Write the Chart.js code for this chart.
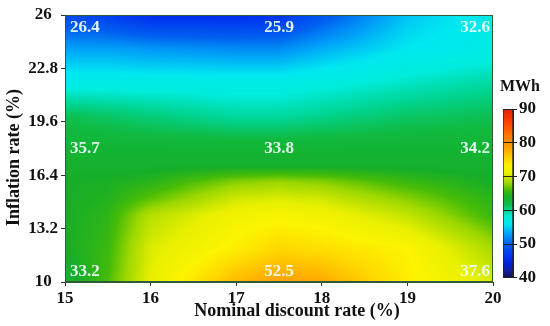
<!DOCTYPE html>
<html lang="en">
<head>
  <meta charset="UTF-8">
  <title>Energy contour</title>
  <style>
    body { margin: 0; background: #fff; }
    .wrap { position: relative; width: 550px; height: 326px; }
    .wrap canvas { display: block; }
    .cbar { position: absolute; left: 480px; top: 70px; width: 70px; height: 220px; }
  </style>
</head>
<body>
  <div class="wrap">
    <canvas id="mainChart" width="550" height="326"></canvas>
    <div class="cbar"><canvas id="barChart" width="70" height="220"></canvas></div>
  </div>

  <script src="https://cdn.jsdelivr.net/npm/chart.js"></script>
  <script>
    // grid (MWh)
    const gridX = [15, 15.5, 16, 17, 17.5, 18, 19, 20];
    const gridY = [10, 12, 14, 15, 16, 17, 18, 20, 22, 24, 26];
    const gridZ = [
      [63.0, 66.0, 71.0, 77.0, 78.5, 78.0, 73.5, 70.5],
      [64.0, 65.5, 70.5, 73.5, 75.0, 74.5, 73.0, 68.5],
      [64.0, 65.0, 69.0, 72.0, 72.5, 72.0, 69.5, 65.5],
      [64.0, 64.5, 66.5, 70.0, 70.5, 70.0, 67.5, 64.8],
      [64.0, 64.2, 64.8, 67.5, 68.0, 67.5, 65.5, 64.0],
      [63.5, 63.5, 63.5, 63.5, 63.5, 63.5, 63.5, 63.5],
      [63.0, 63.0, 63.0, 63.0, 63.0, 63.0, 63.0, 63.0],
      [61.5, 61.0, 60.5, 59.5, 59.5, 60.0, 61.0, 61.5],
      [57.0, 57.0, 57.0, 57.0, 57.0, 57.5, 58.5, 59.5],
      [53.0, 53.0, 52.5, 52.0, 52.0, 53.5, 56.0, 57.0],
      [48.0, 47.0, 45.5, 45.5, 46.0, 49.0, 54.5, 57.0]
    ];

    // values printed inside the plot
    const labelX = [15, 17.5, 20, 15, 17.5, 20, 15, 17.5, 20];
    const labelY = [26, 26, 26, 18, 18, 18, 10, 10, 10];
    const labelText = ['26.4', '25.9', '32.6', '35.7', '33.8', '34.2', '33.2', '52.5', '37.6'];

    const yTicks = [10, 13.2, 16.4, 19.6, 22.8, 26];
    const barRange = [40, 90];

    // colour map (value -> rgb)
    const cmap = [
      [40, [16, 16, 80]], [42, [20, 30, 150]], [44, [0, 32, 208]], [46, [0, 48, 240]],
      [50, [0, 96, 240]], [53, [0, 160, 248]], [56, [0, 232, 240]], [58, [0, 236, 220]],
      [60, [0, 212, 144]], [62, [16, 186, 64]], [64, [22, 174, 40]], [66, [70, 188, 8]],
      [68, [155, 215, 0]], [71, [232, 240, 0]], [73, [252, 244, 0]], [75, [255, 216, 0]],
      [78, [255, 168, 0]], [82, [255, 120, 0]], [86, [255, 64, 0]], [90, [224, 32, 0]]
    ];

    function colorAt(v) {
      if (v <= cmap[0][0]) return cmap[0][1];
      for (let i = 1; i < cmap.length; i++) {
        if (v <= cmap[i][0]) {
          const a = cmap[i - 1], b = cmap[i];
          const t = (v - a[0]) / (b[0] - a[0]);
          return a[1].map((c, k) => c + (b[1][k] - c) * t);
        }
      }
      return cmap[cmap.length - 1][1];
    }

    function findCell(arr, v) {
      for (let i = 0; i < arr.length - 2; i++) if (v < arr[i + 1]) return i;
      return arr.length - 2;
    }

    function valueAt(x, y) {
      const i = findCell(gridX, x), j = findCell(gridY, y);
      const tx = Math.min(1, Math.max(0, (x - gridX[i]) / (gridX[i + 1] - gridX[i])));
      const ty = Math.min(1, Math.max(0, (y - gridY[j]) / (gridY[j + 1] - gridY[j])));
      const a = gridZ[j][i], b = gridZ[j][i + 1], c = gridZ[j + 1][i], d = gridZ[j + 1][i + 1];
      return (a * (1 - tx) + b * tx) * (1 - ty) + (c * (1 - tx) + d * tx) * ty;
    }

    const serif = "'Liberation Serif', 'Times New Roman', serif";

    // paints the field under the datasets, using the chart scales
    const fieldPlugin = {
      id: 'field',
      beforeDatasetsDraw(chart) {
        const { ctx, chartArea: area, scales } = chart;
        const w = Math.round(area.right - area.left), h = Math.round(area.bottom - area.top);
        const off = document.createElement('canvas');
        off.width = w; off.height = h;
        const octx = off.getContext('2d');
        const img = octx.createImageData(w, h);
        for (let py = 0; py < h; py++) {
          const yv = scales.y.getValueForPixel(area.top + py + 0.5);
          for (let px = 0; px < w; px++) {
            const xv = scales.x.getValueForPixel(area.left + px + 0.5);
            const rgb = colorAt(valueAt(xv, yv));
            const k = (py * w + px) * 4;
            img.data[k] = rgb[0]; img.data[k + 1] = rgb[1]; img.data[k + 2] = rgb[2]; img.data[k + 3] = 255;
          }
        }
        octx.putImageData(img, 0, 0);
        ctx.drawImage(off, area.left, area.top);
      },
      afterDraw(chart) {
        const { ctx, chartArea: area, scales } = chart;
        ctx.save();
        ctx.strokeStyle = '#2f5a35';
        ctx.lineWidth = 1;
        ctx.strokeRect(area.left + 0.5, area.top + 0.5, area.right - area.left - 1, area.bottom - area.top - 1);
        ctx.font = 'bold 17px ' + serif;
        ctx.fillStyle = 'rgba(238,255,250,0.93)';
        labelText.forEach((t, i) => {
          let px = scales.x.getPixelForValue(labelX[i]);
          let py = scales.y.getPixelForValue(labelY[i]);
          if (labelX[i] === 15) { ctx.textAlign = 'left'; px += 5; }
          else if (labelX[i] === 20) { ctx.textAlign = 'right'; px -= 3; }
          else ctx.textAlign = 'center';
          if (labelY[i] === 26) { ctx.textBaseline = 'top'; py += 4; }
          else if (labelY[i] === 10) { ctx.textBaseline = 'bottom'; py -= 2; }
          else ctx.textBaseline = 'middle';
          ctx.fillText(t, px, py);
        });
        ctx.restore();
      }
    };

    new Chart(document.getElementById('mainChart'), {
      type: 'scatter',
      data: {
        datasets: [{
          data: labelX.map((x, i) => ({ x: x, y: labelY[i] })),
          pointRadius: 0
        }]
      },
      options: {
        responsive: false,
        animation: false,
        events: [],
        layout: { padding: { top: 15, right: 57, left: 0, bottom: 0 } },
        plugins: { legend: { display: false }, tooltip: { enabled: false } },
        scales: {
          x: {
            type: 'linear', min: 15, max: 20,
            ticks: { stepSize: 1, color: '#111', padding: 2, font: { family: serif, size: 17, weight: 'bold' } },
            grid: { drawOnChartArea: false, tickLength: 4, color: '#333' },
            border: { color: '#2f5a35' },
            title: {
              display: true, text: '        Nominal discount rate (%)', color: '#111',
              padding: { top: 0, bottom: 4 }, font: { family: serif, size: 18, weight: 'bold' }
            },
            afterFit(axis) { axis.height = 44; }
          },
          y: {
            type: 'linear', min: 10, max: 26,
            afterBuildTicks(axis) { axis.ticks = yTicks.map(v => ({ value: v })); },
            ticks: {
              color: '#111', padding: 3, crossAlign: 'center',
              callback: v => String(v),
              font: { family: serif, size: 17, weight: 'bold' }
            },
            grid: { drawOnChartArea: false, tickLength: 4, color: '#333' },
            border: { color: '#2f5a35' },
            title: {
              display: true, text: 'Inflation rate (%)    ', color: '#111',
              padding: { top: 4, bottom: 0 }, font: { family: serif, size: 18, weight: 'bold' }
            },
            afterFit(axis) { axis.width = 65; }
          }
        }
      },
      plugins: [fieldPlugin]
    });

    // colour bar
    const unitPlugin = {
      id: 'unit',
      afterDraw(chart) {
        const ctx = chart.ctx;
        ctx.save();
        ctx.font = 'bold 16px ' + serif;
        ctx.fillStyle = '#111';
        ctx.textAlign = 'center';
        ctx.textBaseline = 'middle';
        ctx.fillText('MWh', 40, 17);
        ctx.restore();
      }
    };

    new Chart(document.getElementById('barChart'), {
      type: 'bar',
      data: {
        labels: ['MWh'],
        datasets: [{
          data: [barRange],
          backgroundColor(c) {
            const { chart } = c;
            const y = chart.scales.y;
            if (!chart.chartArea || !y) return '#0a0';
            const g = chart.ctx.createLinearGradient(0, y.getPixelForValue(barRange[0]), 0, y.getPixelForValue(barRange[1]));
            cmap.forEach(s => g.addColorStop((s[0] - barRange[0]) / (barRange[1] - barRange[0]), 'rgb(' + s[1].map(Math.round).join(',') + ')'));
            return g;
          },
          borderColor: '#222', borderWidth: 1, borderSkipped: false,
          barPercentage: 1, categoryPercentage: 1
        }]
      },
      options: {
        responsive: false,
        animation: false,
        events: [],
        layout: { padding: { top: 39, bottom: 10, left: 23, right: 7 } },
        plugins: { legend: { display: false }, tooltip: { enabled: false } },
        scales: {
          x: { display: false },
          y: {
            position: 'right', min: barRange[0], max: barRange[1],
            ticks: {
              stepSize: 5, padding: 2, color: '#111',
              callback: v => (v % 10 === 0 ? String(v) : ''),
              font: { family: serif, size: 17, weight: 'bold' }
            },
            grid: { z: 1, color: '#222', tickLength: 4 },
            border: { color: '#222', z: 2 },
            afterFit(axis) { axis.width = 30; }
          }
        }
      },
      plugins: [unitPlugin]
    });
  </script>
</body>
</html>
